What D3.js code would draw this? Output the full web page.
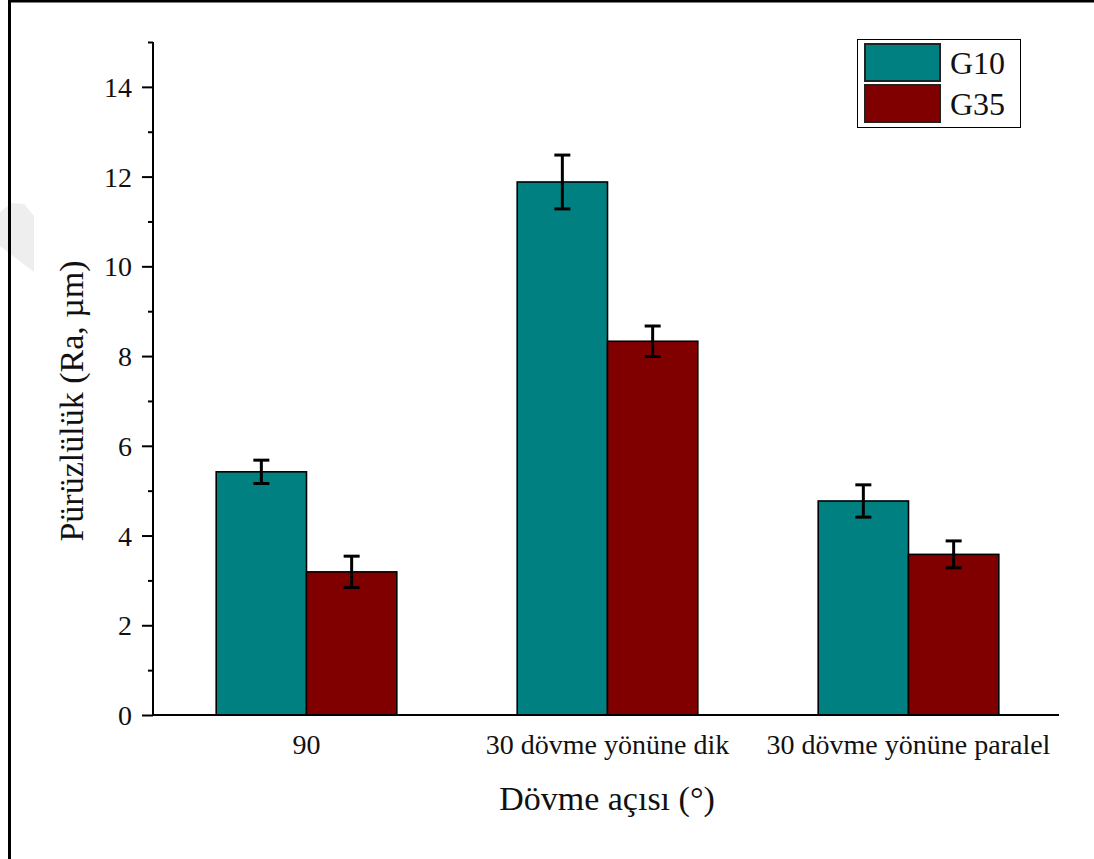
<!DOCTYPE html>
<html>
<head>
<meta charset="utf-8">
<script src="https://cdn.jsdelivr.net/npm/d3@7"></script>
<style>
  html, body { margin: 0; padding: 0; background: #fff; }
  svg { display: block; }
  text { font-family: "Liberation Serif", "Times New Roman", serif; fill: #111; }
</style>
</head>
<body>
<svg id="chart" width="1094" height="859"></svg>
<script>
// Surface roughness (Ra) by forging angle, two grades
const categories = ["90", "30 dövme yönüne dik", "30 dövme yönüne paralel"];
const seriesNames = ["G10", "G35"];
const g10Values = [5.42, 11.88, 4.77];
const g10Errors = [0.26, 0.60, 0.36];
const g35Values = [3.19, 8.33, 3.58];
const g35Errors = [0.35, 0.34, 0.30];
const yTicks = [0, 2, 4, 6, 8, 10, 12, 14];
const yMinorTicks = [1, 3, 5, 7, 9, 11, 13, 15];
const colors = ["#008080", "#800000"];

const series = [
  { name: seriesNames[0], values: g10Values, errors: g10Errors, color: colors[0] },
  { name: seriesNames[1], values: g35Values, errors: g35Errors, color: colors[1] }
];

const svg = d3.select("#chart");

// faint background mark at the left edge
svg.append("polygon")
  .attr("points", "0,212 12,203 24,204 34,216 34,272 0,246")
  .attr("fill", "#eeeeee");

// page frame (top and left edges)
svg.append("line").attr("x1", 9.5).attr("x2", 9.5).attr("y1", 0).attr("y2", 859)
  .attr("stroke", "#000").attr("stroke-width", 3);
svg.append("line").attr("x1", 8).attr("x2", 1094).attr("y1", 1.2).attr("y2", 1.2)
  .attr("stroke", "#000").attr("stroke-width", 2.6);

const axisX = 153, axisRight = 1059, axisTop = 42, axisBottom = 715;

const y = d3.scaleLinear().domain([0, 15]).range([axisBottom, axisTop]);
const x0 = d3.scaleBand().domain(categories).range([156, 1059])
  .paddingInner(0.4).paddingOuter(0.2);
const x1 = d3.scaleBand().domain(seriesNames).range([0, x0.bandwidth()]);

// bars
const groups = svg.append("g").selectAll("g")
  .data(categories).join("g")
  .attr("transform", d => `translate(${x0(d)},0)`);

series.forEach(s => {
  groups.append("rect")
    .attr("x", x1(s.name))
    .attr("y", (d, i) => y(s.values[i]))
    .attr("width", x1.bandwidth())
    .attr("height", (d, i) => y(0) - y(s.values[i]))
    .attr("fill", s.color)
    .attr("stroke", "#000")
    .attr("stroke-width", 1.6);
});

// error bars
const capHalf = 8;
series.forEach(s => {
  const cx = x1(s.name) + x1.bandwidth() / 2;
  const eb = groups.append("g")
    .attr("stroke", "#000").attr("stroke-width", 3).attr("fill", "none");
  eb.append("line")
    .attr("x1", cx).attr("x2", cx)
    .attr("y1", (d, i) => y(s.values[i] + s.errors[i]))
    .attr("y2", (d, i) => y(s.values[i] - s.errors[i]));
  eb.append("line")
    .attr("x1", cx - capHalf).attr("x2", cx + capHalf)
    .attr("y1", (d, i) => y(s.values[i] + s.errors[i]))
    .attr("y2", (d, i) => y(s.values[i] + s.errors[i]));
  eb.append("line")
    .attr("x1", cx - capHalf).attr("x2", cx + capHalf)
    .attr("y1", (d, i) => y(s.values[i] - s.errors[i]))
    .attr("y2", (d, i) => y(s.values[i] - s.errors[i]));
});

// y axis with major and minor ticks
const yAxis = svg.append("g").attr("transform", `translate(${axisX},0)`)
  .call(d3.axisLeft(y).tickValues(yTicks).tickSize(11).tickPadding(10).tickFormat(d3.format("d")));
yAxis.select(".domain").remove();
yAxis.selectAll(".tick line").attr("stroke", "#000").attr("stroke-width", 2);
yAxis.selectAll(".tick text")
  .style("font-family", "'Liberation Serif', 'Times New Roman', serif")
  .style("font-size", "28px").attr("fill", "#111").attr("dy", "0.34em");

const yMinor = svg.append("g").attr("transform", `translate(${axisX},0)`)
  .call(d3.axisLeft(y).tickValues(yMinorTicks).tickSize(5).tickFormat(""));
yMinor.select(".domain").remove();
yMinor.selectAll(".tick line").attr("stroke", "#000").attr("stroke-width", 2);

svg.append("line").attr("x1", axisX).attr("x2", axisX)
  .attr("y1", axisTop).attr("y2", axisBottom + 1)
  .attr("stroke", "#000").attr("stroke-width", 2);

// x axis baseline and category labels
svg.append("line").attr("x1", axisX - 1).attr("x2", axisRight)
  .attr("y1", axisBottom).attr("y2", axisBottom)
  .attr("stroke", "#000").attr("stroke-width", 2);

const xAxis = svg.append("g").attr("transform", `translate(0,${axisBottom})`)
  .call(d3.axisBottom(x0).tickSize(0).tickPadding(0));
xAxis.select(".domain").remove();
xAxis.selectAll(".tick text")
  .style("font-family", "'Liberation Serif', 'Times New Roman', serif")
  .style("font-size", "28px").attr("fill", "#111")
  .attr("dy", 0).attr("y", 39);

// axis titles
svg.append("text")
  .attr("x", 607).attr("y", 810)
  .attr("text-anchor", "middle")
  .style("font-size", "34px")
  .text("Dövme açısı (°)");

svg.append("text")
  .attr("transform", "translate(83,401) rotate(-90)")
  .attr("text-anchor", "middle")
  .style("font-size", "34px")
  .text("Pürüzlülük (Ra, µm)");

// legend
const legend = svg.append("g");
legend.append("rect")
  .attr("x", 857.5).attr("y", 39.5).attr("width", 163).attr("height", 88)
  .attr("fill", "#fff").attr("stroke", "#000").attr("stroke-width", 1);
series.forEach((s, i) => {
  legend.append("rect")
    .attr("x", 865).attr("y", 44 + i * 41).attr("width", 75).attr("height", 37)
    .attr("fill", s.color).attr("stroke", "#222").attr("stroke-width", 2);
  legend.append("text")
    .attr("x", 950).attr("y", 74 + i * 41)
    .style("font-size", "32px")
    .text(s.name);
});
</script>
</body>
</html>
